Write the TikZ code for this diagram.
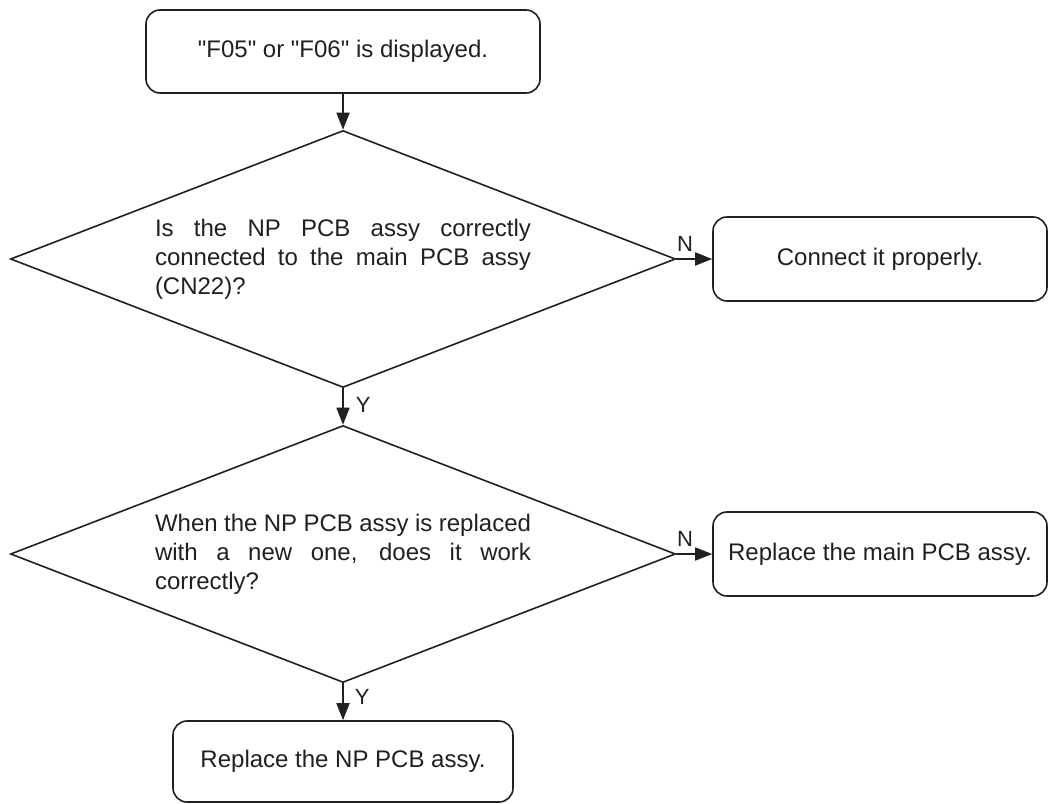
\documentclass[tikz,border=0pt]{standalone}
\usepackage{fontspec}
\setmainfont{Liberation Sans}
\usetikzlibrary{shapes.geometric,arrows.meta}
\definecolor{ink}{HTML}{231F20}
\begin{document}
\begin{tikzpicture}[x=1pt,y=-1pt,color=ink,line width=1.6pt,
  txt/.style={font=\fontsize{24}{29}\selectfont},
  stepbox/.style={draw,rounded corners=14pt,txt,inner sep=0pt,align=center},
  decision/.style={draw,diamond,aspect=2.59,inner sep=0pt,txt,
    text width=376pt,align=justify,minimum width=665pt,minimum height=257pt},
  arr/.style={-{Triangle[length=17pt,width=13pt]}},
  lbl/.style={font=\fontsize{22}{26}\selectfont,inner sep=0pt}]
\useasboundingbox (0,0) rectangle (1048,803);

% boxes and decisions
\node[stepbox,minimum width=394pt,minimum height=83pt] (start) at (343,51.5)
  {\textquotedbl F05\textquotedbl{} or \textquotedbl F06\textquotedbl{} is displayed.};
\node[decision] (d1) at (343,259)
  {Is the NP PCB assy correctly\linebreak connected to the main PCB assy\linebreak (CN22)?};
\node[stepbox,minimum width=334pt,minimum height=84pt] (fix1) at (880,259)
  {Connect it properly.};
\node[decision] (d2) at (343,554)
  {When the NP PCB assy is replaced\linebreak with a new one, does it work\linebreak correctly?};
\node[stepbox,minimum width=334pt,minimum height=84pt] (fix2) at (880,554)
  {Replace the main PCB assy.};
\node[stepbox,minimum width=340pt,minimum height=81pt] (fix3) at (343,761.5)
  {Replace the NP PCB assy.};

% connectors
\draw[arr] (start) -- (d1);
\draw[arr] (d1) -- node[lbl,pos=0.24,anchor=base,yshift=8pt] {N} (fix1);
\draw[arr] (d1) -- node[lbl,pos=0.66,anchor=base west,xshift=12pt] {Y} (d2);
\draw[arr] (d2) -- node[lbl,pos=0.24,anchor=base,yshift=8pt] {N} (fix2);
\draw[arr] (d2) -- node[lbl,pos=0.58,anchor=base west,xshift=11pt] {Y} (fix3);
\end{tikzpicture}
\end{document}
